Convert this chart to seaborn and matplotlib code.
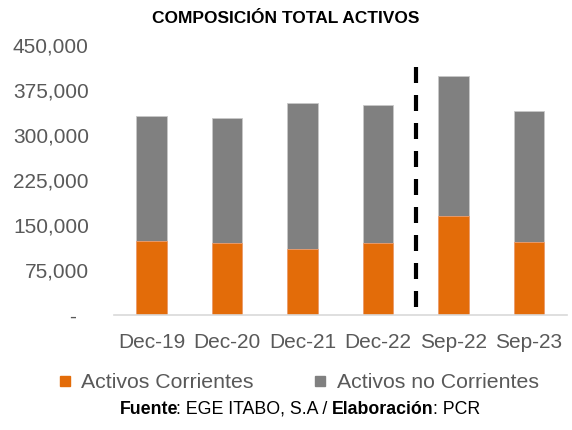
import matplotlib
matplotlib.use("Agg")
import matplotlib.pyplot as plt
from matplotlib.lines import Line2D
import seaborn as sns
import pandas as pd

# datos (miles)
periodos = ["Dec-19", "Dec-20", "Dec-21", "Dec-22", "Sep-22", "Sep-23"]
activos_corrientes = [122800, 120000, 109500, 120500, 164500, 121100]
activos_no_corrientes = [208900, 208900, 243300, 229500, 233300, 218900]
ticks_y = [0, 75000, 150000, 225000, 300000, 375000, 450000]

sns.set_style("white")
plt.rcParams["font.family"] = ["Liberation Sans", "DejaVu Sans"]

df = pd.DataFrame({
    "periodo": periodos,
    "corrientes": activos_corrientes,
    "no_corrientes": activos_no_corrientes,
})
df["total"] = df["corrientes"] + df["no_corrientes"]

naranja = "#E36C09"
gris = "#808080"
texto = "#595959"

fig = plt.figure(figsize=(5.72, 4.3), dpi=100)
ax = fig.add_axes([0.199, 0.2674, 0.792, 0.628])

# barras apiladas: total en gris, corrientes en naranja encima
sns.barplot(data=df, x="periodo", y="total", color=gris, width=0.4,
            saturation=1, ax=ax, edgecolor="#c8c8c8", linewidth=0.6)
sns.barplot(data=df, x="periodo", y="corrientes", color=naranja, width=0.4,
            saturation=1, ax=ax, edgecolor="#f0a070", linewidth=0.6)

# linea separadora entre periodos anuales e interinos
ax.axvline(3.5, ymin=0.031, ymax=0.92, color="black", lw=3,
           linestyle=(0, (3.84, 2.88)))

ax.set_xlim(-0.5, len(periodos) - 0.5)
ax.set_ylim(0, 450000)
ax.set_yticks(ticks_y)
ax.set_yticklabels(["-  " if v == 0 else f"{v:,}" for v in ticks_y])
ax.set_xlabel("")
ax.set_ylabel("")
ax.tick_params(axis="y", length=0, pad=18, labelsize=15, labelcolor=texto)
ax.tick_params(axis="x", length=0, pad=13, labelsize=15, labelcolor=texto)
for s in ["left", "right", "top"]:
    ax.spines[s].set_visible(False)
ax.spines["bottom"].set_color("#d9d9d9")
ax.spines["bottom"].set_linewidth(1.2)

fig.text(0.5, 0.958, "COMPOSICIÓN TOTAL ACTIVOS", ha="center", va="center",
         fontsize=12.5, fontweight="bold", color="black")

handles = [Line2D([], [], marker="s", linestyle="", markersize=7.2,
                  color=naranja, label="Activos Corrientes"),
           Line2D([], [], marker="s", linestyle="", markersize=7.2,
                  color=gris, label="Activos no Corrientes")]
fig.legend(handles=handles, loc="center", bbox_to_anchor=(298 / 572, 1 - 383 / 430),
           ncol=2, frameon=False, fontsize=15.3, handlelength=0.7,
           handletextpad=0.42, columnspacing=2.8, labelcolor=texto)

# pie de fuente con partes en negrita (texto, peso, ajuste px)
partes = [("Fuente", "bold", -2.5), (": EGE ITABO, S.A / ", "normal", 0),
          ("Elaboración", "bold", -1), (": PCR", "normal", 0)]
renderer = fig.canvas.get_renderer()
objs = []
for t, w, _ in partes:
    objs.append(fig.text(0, 1 - 409 / 430, t, fontsize=12.8, fontweight=w,
                         color="black", va="center", ha="left"))
anchos = [o.get_window_extent(renderer).width + p[2] for o, p in zip(objs, partes)]
x = 300 - sum(anchos) / 2
for o, a in zip(objs, anchos):
    o.set_x(x / 572)
    x += a

fig.savefig("out.png", dpi=100)
